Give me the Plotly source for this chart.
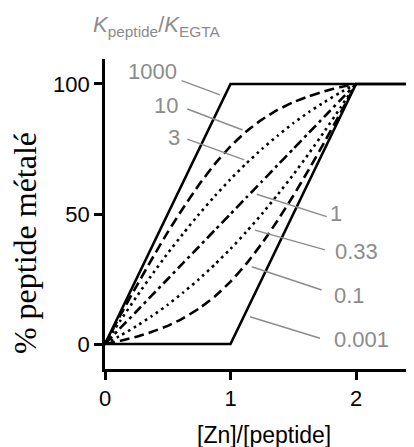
import plotly.graph_objects as go

# [Zn]/[peptide] sample points
zn = [0, 0.125, 0.25, 0.375, 0.5, 0.625, 0.75, 0.875, 1.0, 1.125, 1.25, 1.375,
      1.5, 1.625, 1.75, 1.875, 2.0]

# % peptide metalated for each Kpeptide/KEGTA ratio
k10 = [0, 11.3, 22.2, 32.8, 43.0, 52.5, 61.3, 69.2, 76.0, 81.7, 86.3, 90.0,
       93.0, 95.3, 97.2, 98.8, 100]
k3 = [0, 9.2, 18.1, 26.7, 34.9, 42.6, 50.0, 56.9, 63.4, 69.4, 75.0, 80.1,
      84.9, 89.2, 93.1, 96.7, 100]
k1 = [0, 6.3, 12.5, 18.8, 25.0, 31.3, 37.5, 43.8, 50.0, 56.3, 62.5, 68.8,
      75.0, 81.3, 87.5, 93.8, 100]
k033 = [0, 3.3, 6.9, 10.8, 15.1, 19.9, 25.0, 30.6, 36.6, 43.1, 50.0, 57.4,
        65.1, 73.3, 81.9, 90.8, 100]
k01 = [0, 1.3, 2.8, 4.7, 7.0, 10.0, 13.7, 18.3, 24.0, 30.8, 38.7, 47.5,
       57.0, 67.2, 77.8, 88.8, 100]
zn_1000 = [0, 1.0, 2.5]
k1000 = [0, 100, 100]
zn_0001 = [0, 1.0, 2.0, 2.5]
k0001 = [0, 0, 100, 100]

labels = ["1000", "10", "3", "1", "0.33", "0.1", "0.001"]

x_ticks = [0, 1, 2]
y_ticks = [0, 50, 100]

fig = go.Figure()
LW = 2.6
def add(x, y, dash, shape="spline"):
    fig.add_trace(go.Scatter(x=x, y=y, mode="lines",
                             line=dict(color="black", width=LW, dash=dash, shape=shape, smoothing=0.5),
                             hoverinfo="skip", showlegend=False, cliponaxis=False))

add(zn, k10, "10px,5px")
add(zn, k3, "2.6px,4px")
add(zn, k1, "10px,4px,3px,4px")
add(zn, k033, "2.6px,4px")
add(zn, k01, "10px,5px")
add(zn_1000, k1000, "solid", "linear")
add(zn_0001, k0001, "solid", "linear")

# leader lines (data coords): start -> end
leaders = [
    (0.611, 101.3, 0.916, 95.8),
    (0.656, 90.4, 1.097, 82.3),
    (0.656, 78.8, 1.110, 70.8),
    (1.209, 57.6, 1.767, 49.0),
    (1.195, 43.8, 1.753, 36.2),
    (1.169, 29.7, 1.727, 20.8),
    (1.155, 10.5, 1.713, 2.2),
]
text_pos = [
    (0.59, 104.7, "right"),
    (0.598, 91.9, "right"),
    (0.61, 79.5, "right"),
    (1.777, 50.3, "left"),
    (1.817, 35.5, "left"),
    (1.806, 18.8, "left"),
    (1.806, 1.8, "left"),
]
GRAY = "#8c8c8c"
for (x0, y0, x1, y1) in leaders:
    fig.add_shape(type="line", x0=x0, y0=y0, x1=x1, y1=y1, xref="x", yref="y",
                  line=dict(color=GRAY, width=1.5))
for lab, (x, y, anc) in zip(labels, text_pos):
    fig.add_annotation(x=x, y=y, text=lab, showarrow=False, xanchor=anc, yanchor="middle",
                       font=dict(family="Liberation Sans, Arial", size=22, color=GRAY))

fig.add_annotation(xref="paper", yref="paper", x=-0.046, y=1.105, xanchor="left", yanchor="middle",
                   text="<i>K</i><sub>peptide</sub>/<i>K</i><sub>EGTA</sub>", showarrow=False,
                   font=dict(family="Liberation Sans, Arial", size=22, color=GRAY))
fig.add_annotation(xref="paper", yref="paper", x=-0.259, y=0.406, xanchor="center", yanchor="middle",
                   text="% peptide métalé", textangle=-90, showarrow=False,
                   font=dict(family="Liberation Serif, Times New Roman", size=32, color="black"))
fig.add_annotation(xref="paper", yref="paper", x=0.513, y=-0.213, xanchor="center", yanchor="middle",
                   text="[Zn]/[peptide]", showarrow=False,
                   font=dict(family="Liberation Sans, Arial", size=23, color="black"))

fig.update_xaxes(range=[0, 2.462], tickvals=x_ticks, ticktext=[str(v) for v in x_ticks],
                 showgrid=False, zeroline=False, showline=True, linecolor="black", linewidth=2.6,
                 ticks="outside", ticklen=8, tickwidth=2.6, tickcolor="black", ticklabelstandoff=0,
                 tickfont=dict(family="Liberation Sans, Arial", size=22, color="black"))
fig.update_yaxes(range=[-9.6, 109.6], tickvals=y_ticks, ticktext=[str(v) for v in y_ticks],
                 showgrid=False, zeroline=False, showline=True, linecolor="black", linewidth=2.6,
                 ticks="outside", ticklen=8, tickwidth=2.6, tickcolor="black", ticklabelstandoff=0,
                 tickfont=dict(family="Liberation Sans, Arial", size=22, color="black"))

# page body has an 8px margin, so shift the figure margins to compensate
fig.update_layout(width=414, height=447, margin=dict(l=97, r=8, t=51, b=86),
                  plot_bgcolor="white", paper_bgcolor="white", showlegend=False)

fig.write_html("out.html")
